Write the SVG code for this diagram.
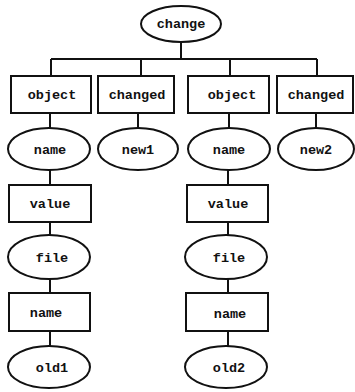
<svg xmlns="http://www.w3.org/2000/svg" width="355" height="392" viewBox="0 0 355 392">
<style>
.n ellipse,.n rect{fill:#fff;stroke:#111;stroke-width:2}
.n text{font-family:"Liberation Mono","DejaVu Sans Mono",monospace;font-weight:bold;font-size:13.5px;fill:#111;text-anchor:middle;dominant-baseline:central}
#connectors path{fill:none;stroke:#111;stroke-width:2}
</style>
<rect width="355" height="392" fill="#fff"/>
<g id="connectors">
<path d="M181 42V59M51 59H317M51 59V76M141 59V76M230 59V76M317 59V76"/>
<path d="M50 113V128M138 113V128M229 113V128M316 113V128"/>
<path d="M50 170V185M50 222V235M50 279V293M50 331V346"/>
<path d="M228 170V185M228 222V235M228 279V293M228 331V346"/>
</g>
<g id="change" class="n"><ellipse cx="181" cy="24" rx="40" ry="18"/><text x="181" y="24">change</text></g>
<g id="object1" class="n"><rect x="11" y="76" width="80" height="37"/><text x="52" y="95">object</text></g>
<g id="changed1" class="n"><rect x="98" y="76" width="76" height="37"/><text x="137" y="95">changed</text></g>
<g id="object2" class="n"><rect x="188" y="76" width="81" height="37"/><text x="232" y="95">object</text></g>
<g id="changed2" class="n"><rect x="277" y="76" width="76" height="37"/><text x="316" y="95">changed</text></g>
<g id="name1" class="n"><ellipse cx="49" cy="149" rx="41" ry="21"/><text x="50" y="150">name</text></g>
<g id="new1" class="n"><ellipse cx="138" cy="149" rx="40" ry="21"/><text x="138" y="150">new1</text></g>
<g id="name2" class="n"><ellipse cx="229" cy="149" rx="41" ry="21"/><text x="229" y="150">name</text></g>
<g id="new2" class="n"><ellipse cx="316" cy="149" rx="38" ry="21"/><text x="316" y="150">new2</text></g>
<g id="value1" class="n"><rect x="9" y="185" width="82" height="37"/><text x="50" y="204">value</text></g>
<g id="value2" class="n"><rect x="187" y="185" width="81" height="37"/><text x="228" y="204">value</text></g>
<g id="file1" class="n"><ellipse cx="49" cy="257" rx="41" ry="22"/><text x="52" y="258">file</text></g>
<g id="file2" class="n"><ellipse cx="226" cy="257" rx="41" ry="22"/><text x="229" y="258">file</text></g>
<g id="nameb1" class="n"><rect x="9" y="293" width="81" height="38"/><text x="46" y="313">name</text></g>
<g id="nameb2" class="n"><rect x="186" y="293" width="82" height="38"/><text x="230" y="314">name</text></g>
<g id="old1" class="n"><ellipse cx="49" cy="367" rx="41" ry="21"/><text x="52" y="368">old1</text></g>
<g id="old2" class="n"><ellipse cx="226" cy="367" rx="41" ry="21"/><text x="229" y="368">old2</text></g>
</svg>
